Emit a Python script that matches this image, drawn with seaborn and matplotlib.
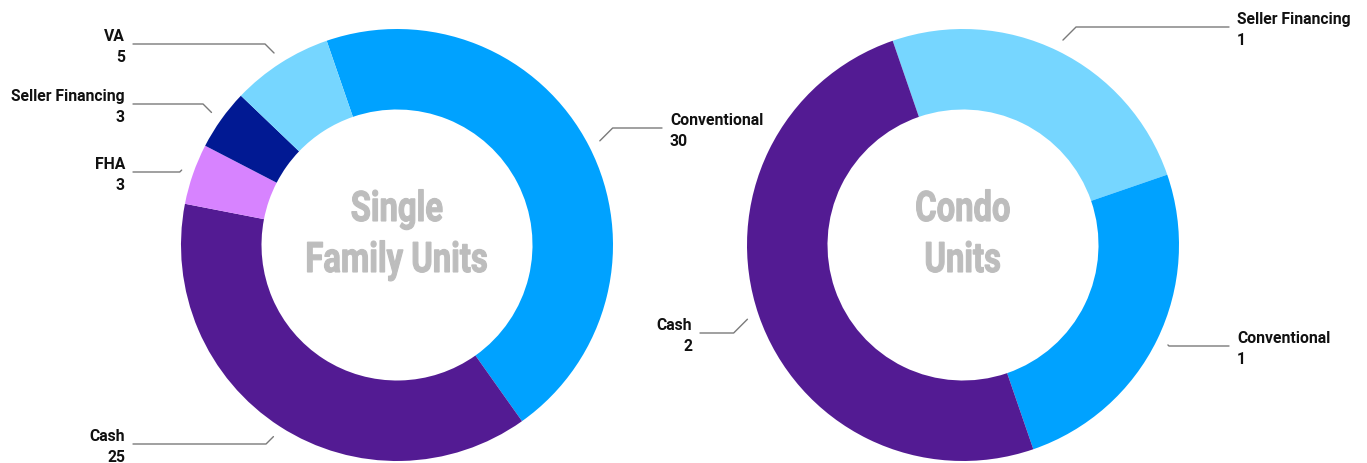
import numpy as np
import matplotlib.pyplot as plt
import seaborn as sns
from matplotlib.textpath import TextPath
from matplotlib.patches import PathPatch
from matplotlib.font_manager import FontProperties
from matplotlib.transforms import Affine2D

# data
sf_labels = ["Conventional", "Cash", "FHA", "Seller Financing", "VA"]
sf_values = [30, 25, 3, 3, 5]
sf_colors = ["#00A2FF", "#531B93", "#D783FF", "#011993", "#76D6FF"]

condo_labels = ["Seller Financing", "Conventional", "Cash"]
condo_values = [1, 1, 2]
condo_colors = ["#76D6FF", "#00A2FF", "#531B93"]

# layout (pixels, top-left origin)
W, H = 1367, 463
sf_center = (397, 245)
condo_center = (963, 245)
R_OUT = 216
RING = 80.5
sf_label_y = [128, 444, 172, 104, 44]
condo_label_y = [27, 346, 333]
sf_text_x = (125, 670)
condo_text_x = (692, 1237)
title_baselines = (221, 272)

sns.set_theme(style="white")
plt.rcParams["font.family"] = ["Roboto", "DejaVu Sans"]

fig = plt.figure(figsize=(W / 100, H / 100), dpi=100)
ax = fig.add_axes([0, 0, 1, 1])
ax.set_xlim(0, W)
ax.set_ylim(0, H)
ax.set_aspect("equal")
ax.axis("off")

title_font = FontProperties(family="Roboto", weight="bold")


def condensed_text(x, y, s, size=42, squeeze=0.78):
    # narrow bold text, centred on x, baseline at y
    tp = TextPath((0, 0), s, size=size, prop=title_font)
    ext = tp.get_extents()
    tr = Affine2D().translate(-(ext.x0 + ext.x1) / 2, 0).scale(squeeze, 1).translate(x, y)
    ax.add_patch(PathPatch(tr.transform_path(tp), facecolor="#BDBDBD",
                           edgecolor="#BDBDBD", linewidth=0.8))


def donut(center, labels, values, colors, label_y, text_x, title):
    cx, cy = center[0], H - center[1]
    wedges, _ = ax.pie(values, colors=colors, startangle=109, counterclock=False,
                       center=(cx, cy), radius=R_OUT,
                       wedgeprops=dict(width=RING, linewidth=0))
    for w, lab, val, ly in zip(wedges, labels, values, label_y):
        mid = np.deg2rad((w.theta1 + w.theta2) / 2)
        px = cx + (R_OUT + 12) * np.cos(mid)
        py = cy + (R_OUT + 12) * np.sin(mid)
        ly = H - ly
        left = px < cx
        d = abs(py - ly)
        ex = px - d if left else px + d
        if left:
            tx = text_x[0]
            ax.plot([tx + 8, ex, px], [ly, ly, py], color="#7a7a7a", lw=1)
            ax.text(tx, ly - 3, f"{lab}\n{val}", ha="right", va="center",
                    fontsize=11.3, fontweight="bold", color="#111111",
                    linespacing=1.55, multialignment="right")
        else:
            tx = text_x[1]
            ax.plot([tx - 8, ex, px], [ly, ly, py], color="#7a7a7a", lw=1)
            ax.text(tx, ly - 3, f"{lab}\n{val}", ha="left", va="center",
                    fontsize=11.3, fontweight="bold", color="#111111",
                    linespacing=1.55, multialignment="left")
    for line, base in zip(title, title_baselines):
        condensed_text(cx, H - base, line)


donut(sf_center, sf_labels, sf_values, sf_colors, sf_label_y, sf_text_x,
      ["Single", "Family Units"])
donut(condo_center, condo_labels, condo_values, condo_colors, condo_label_y,
      condo_text_x, ["Condo", "Units"])

ax.set_xlim(0, W)
ax.set_ylim(0, H)
fig.savefig("out.png", dpi=100)
